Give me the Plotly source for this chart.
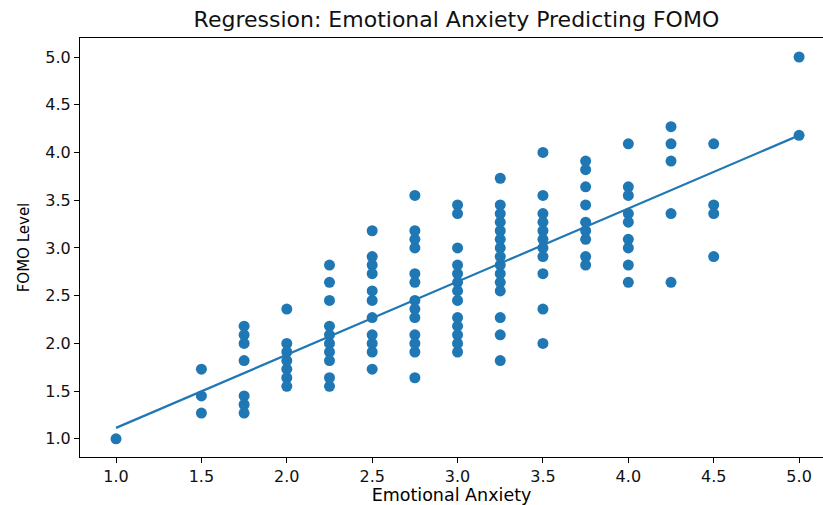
import plotly.graph_objects as go

# Data (FOMO values lie on a 1/11 grid)
anxiety_levels = [1.0, 1.5, 1.75, 2.0, 2.25, 2.5, 2.75, 3.0, 3.25, 3.5, 3.75, 4.0, 4.25, 4.5, 5.0]
fomo_by_level = [
    [1.0],
    [1.73, 1.45, 1.27],
    [2.18, 2.09, 2.0, 1.82, 1.45, 1.36, 1.27],
    [2.36, 2.0, 1.91, 1.82, 1.73, 1.64, 1.55],
    [2.82, 2.64, 2.45, 2.18, 2.09, 2.0, 1.91, 1.82, 1.64, 1.55],
    [3.18, 2.91, 2.82, 2.73, 2.55, 2.45, 2.27, 2.09, 2.0, 1.91, 1.73],
    [3.55, 3.18, 3.09, 3.0, 2.73, 2.64, 2.45, 2.36, 2.27, 2.09, 2.0, 1.91, 1.64],
    [3.45, 3.36, 3.0, 2.82, 2.73, 2.64, 2.55, 2.45, 2.27, 2.18, 2.09, 2.0, 1.91],
    [3.73, 3.45, 3.36, 3.27, 3.18, 3.09, 3.0, 2.91, 2.82, 2.73, 2.64, 2.55, 2.27, 2.09, 1.82],
    [4.0, 3.55, 3.36, 3.27, 3.18, 3.09, 3.0, 2.91, 2.73, 2.36, 2.0],
    [3.91, 3.82, 3.64, 3.45, 3.27, 3.18, 3.09, 2.91, 2.82],
    [4.09, 3.64, 3.55, 3.36, 3.27, 3.09, 3.0, 2.82, 2.64],
    [4.27, 4.09, 3.91, 3.36, 2.64],
    [4.09, 3.45, 3.36, 2.91],
    [5.0, 4.18],
]

# Regression line coefficients
fit_intercept = 0.349
fit_slope = 0.766
fit_x = [1.0, 5.0]

tick_vals = [1.0, 1.5, 2.0, 2.5, 3.0, 3.5, 4.0, 4.5, 5.0]

xs, ys = [], []
for lvl, vals in zip(anxiety_levels, fomo_by_level):
    for v in vals:
        xs.append(lvl)
        ys.append(v)

fit_y = [fit_intercept + fit_slope * x for x in fit_x]

fig = go.Figure()
fig.add_trace(go.Scatter(
    x=xs, y=ys, mode="markers",
    marker=dict(color="#1f77b4", size=11, line=dict(width=0)),
    showlegend=False, cliponaxis=False,
))
fig.add_trace(go.Scatter(
    x=fit_x, y=fit_y, mode="lines",
    line=dict(color="#1f77b4", width=2.2),
    showlegend=False,
))

font_family = "DejaVu Sans"
fig.update_layout(
    width=823, height=505,
    margin=dict(l=80, r=0, t=38, b=48, autoexpand=False),
    paper_bgcolor="white", plot_bgcolor="white",
    font=dict(family=font_family, size=15, color="black"),
    title=dict(
        text="Regression: Emotional Anxiety Predicting FOMO",
        x=0.5546, xanchor="center", y=0.962, yanchor="middle",
        font=dict(family=font_family, size=22, color="#111111"),
        automargin=False,
    ),
)
fig.update_xaxes(
    range=[0.789, 5.14], tickvals=tick_vals, ticktext=[f"{t:.1f}" for t in tick_vals],
    showgrid=False, zeroline=False, automargin=False,
    showline=True, linecolor="black", linewidth=1, mirror=True,
    ticks="outside", ticklen=5, tickcolor="black", tickwidth=1,
    title=dict(text="Emotional Anxiety", standoff=2, font=dict(size=17.5)),
    tickfont=dict(size=16, color="#111111"),
)
fig.update_yaxes(
    range=[0.81, 5.199], tickvals=tick_vals, ticktext=[f"{t:.1f}" for t in tick_vals],
    showgrid=False, zeroline=False, automargin=False,
    showline=True, linecolor="black", linewidth=1, mirror=False,
    ticks="outside", ticklen=5, tickcolor="black", tickwidth=1,
    title=dict(text="FOMO Level", standoff=12, font=dict(size=15)),
    tickfont=dict(size=16, color="#111111"),
)

fig.write_html(
    "out.html",
    config={"displayModeBar": False},
    post_script="document.body.style.margin='0';document.body.style.overflow='hidden';",
)
